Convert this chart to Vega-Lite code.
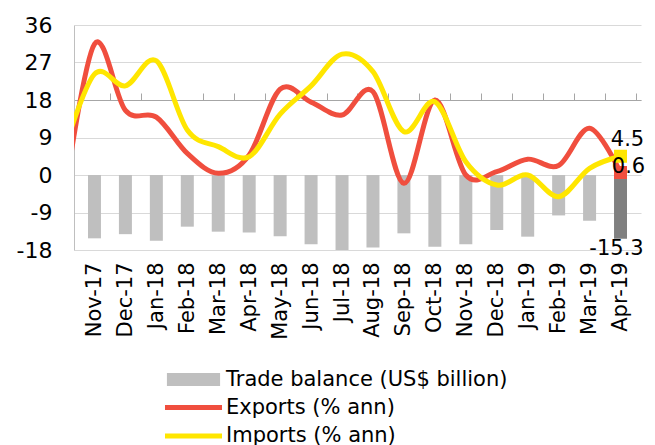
{
  "$schema": "https://vega.github.io/schema/vega-lite/v6.json",
  "width": 567,
  "height": 225,
  "autosize": "none",
  "padding": {"left": 74, "top": 25, "right": 14, "bottom": 195},
  "background": "white",
  "config": {
    "view": {"stroke": null},
    "font": "DejaVu Sans",
    "axisY": {"labelOverlap": false, "labelFlush": false, "grid": true, "gridColor": "#D9D9D9", "ticks": false,
      "domainColor": "#BFBFBF", "labelFontSize": 22, "labelPadding": 22, "labelColor": "#000000", "title": null,
      "tickCount": 30}
  },
  "data": {"values": [
    {"i": -1, "month": "Oct-17", "balance": null, "exports": -6.5, "imports": 5.5},
    {"i": 0, "month": "Nov-17", "balance": -15.2, "exports": 31.4, "imports": 24.2},
    {"i": 1, "month": "Dec-17", "balance": -14.2, "exports": 15.5, "imports": 21.4},
    {"i": 2, "month": "Jan-18", "balance": -15.8, "exports": 13.9, "imports": 27.4},
    {"i": 3, "month": "Feb-18", "balance": -12.4, "exports": 5.2, "imports": 10.8},
    {"i": 4, "month": "Mar-18", "balance": -13.6, "exports": 0.4, "imports": 6.8},
    {"i": 5, "month": "Apr-18", "balance": -13.8, "exports": 4.8, "imports": 4.4},
    {"i": 6, "month": "May-18", "balance": -14.7, "exports": 20.6, "imports": 14.6},
    {"i": 7, "month": "Jun-18", "balance": -16.6, "exports": 17.5, "imports": 21.4},
    {"i": 8, "month": "Jul-18", "balance": -18.0, "exports": 14.4, "imports": 29.0},
    {"i": 9, "month": "Aug-18", "balance": -17.4, "exports": 20.0, "imports": 24.8},
    {"i": 10, "month": "Sep-18", "balance": -14.0, "exports": -2.0, "imports": 10.4},
    {"i": 11, "month": "Oct-18", "balance": -17.2, "exports": 18.0, "imports": 17.6},
    {"i": 12, "month": "Nov-18", "balance": -16.6, "exports": 0.0, "imports": 3.2},
    {"i": 13, "month": "Dec-18", "balance": -13.2, "exports": 0.8, "imports": -2.4},
    {"i": 14, "month": "Jan-19", "balance": -14.8, "exports": 3.8, "imports": 0.0},
    {"i": 15, "month": "Feb-19", "balance": -9.7, "exports": 2.3, "imports": -5.2},
    {"i": 16, "month": "Mar-19", "balance": -11.0, "exports": 11.2, "imports": 1.6},
    {"i": 17, "month": "Apr-19", "balance": -15.3, "exports": 0.6, "imports": 4.5}
  ]},
  "resolve": {"axis": {"x": "independent"}},
  "layer": [
    {
      "transform": [{"filter": "datum.balance != null"}],
      "mark": {"type": "bar", "size": 13},
      "encoding": {
        "x": {"field": "i", "type": "quantitative",
          "scale": {"domain": [-0.5, 17.5], "nice": false, "zero": false},
          "axis": {"values": [0,1,2,3,4,5,6,7,8,9,10,11,12,13,14,15,16,17], "tickCount": 40,
            "labelExpr": "['Nov-17','Dec-17','Jan-18','Feb-18','Mar-18','Apr-18','May-18','Jun-18','Jul-18','Aug-18','Sep-18','Oct-18','Nov-18','Dec-18','Jan-19','Feb-19','Mar-19','Apr-19'][datum.value]",
            "labelAngle": -90, "labelAlign": "right", "labelBaseline": "middle",
            "ticks": false, "domain": false, "grid": false, "labelFontSize": 21,
            "labelPadding": 12, "labelColor": "#000000", "title": null, "labelOverlap": false, "labelFlush": false}},
        "y": {"field": "balance", "type": "quantitative",
          "scale": {"domain": [-18, 36], "nice": false, "zero": false},
          "axis": {"values": [-18,-9,0,9,18,27,36], "labelExpr": "'' + datum.value"}},
        "fill": {
          "datum": "Trade balance (US$ billion)", "type": "nominal",
          "scale": {"range": ["#BFBFBF"]},
          "condition": {"test": "datum.month === 'Apr-19'", "value": "#808080"},
          "legend": {"orient": "none", "legendX": 109, "legendY": 344, "title": null,
            "symbolType": "M-5,-1.2H5V1.2H-5Z", "symbolSize": 113, "labelFontSize": 21,
            "labelOffset": 22, "labelColor": "#000000", "padding": 0, "symbolStrokeWidth": 0, "labelLimit": 500}
        }
      }
    },
    {
      "transform": [{"fold": ["exports", "imports"], "as": ["series", "value"]}],
      "mark": {"type": "line", "strokeWidth": 5, "interpolate": "cardinal", "clip": true},
      "encoding": {
        "x": {"field": "i", "type": "quantitative",
          "axis": {"values": [-0.5,0.5,1.5,2.5,3.5,4.5,5.5,6.5,7.5,8.5,9.5,10.5,11.5,12.5,13.5,14.5,15.5,16.5,17.5],
            "tickCount": 40, "labels": false, "tickSize": 7, "tickColor": "#A6A6A6", "domainColor": "#A6A6A6",
            "offset": -75, "grid": false, "title": null}},
        "y": {"field": "value", "type": "quantitative"},
        "stroke": {"field": "series", "type": "nominal",
          "scale": {"domain": ["exports", "imports"], "range": ["#F04E3E", "#FFE600"]},
          "legend": {"orient": "none", "legendX": 109, "legendY": 372, "title": null,
            "symbolType": "M-5,0H5", "symbolSize": 130, "symbolStrokeWidth": 5,
            "labelExpr": "datum.value == 'exports' ? 'Exports (% ann)' : 'Imports (% ann)'",
            "labelFontSize": 21, "labelOffset": 22, "labelColor": "#000000", "padding": 0,
            "rowPadding": 6.5, "labelLimit": 500}}
      }
    },
    {
      "transform": [{"fold": ["exports", "imports"], "as": ["series", "value"]}, {"filter": "datum.i == 17"}],
      "mark": {"type": "square", "size": 169, "opacity": 1},
      "encoding": {
        "x": {"field": "i", "type": "quantitative", "axis": null},
        "y": {"field": "value", "type": "quantitative"},
        "color": {"field": "series", "type": "nominal",
          "scale": {"domain": ["exports", "imports"], "range": ["#F04E3E", "#FFE600"]}, "legend": null}
      }
    },
    {
      "transform": [{"filter": "datum.i == 17"}],
      "mark": {"type": "text", "fontSize": 21, "dx": 7, "dy": -16, "color": "#000000"},
      "encoding": {
        "x": {"field": "i", "type": "quantitative", "axis": null},
        "y": {"field": "imports", "type": "quantitative"},
        "text": {"field": "imports", "type": "nominal"}
      }
    },
    {
      "transform": [{"filter": "datum.i == 17"}],
      "mark": {"type": "text", "fontSize": 21, "dx": 8, "dy": -6, "color": "#000000"},
      "encoding": {
        "x": {"field": "i", "type": "quantitative", "axis": null},
        "y": {"field": "exports", "type": "quantitative"},
        "text": {"field": "exports", "type": "nominal"}
      }
    },
    {
      "transform": [{"filter": "datum.i == 17"}],
      "mark": {"type": "text", "fontSize": 21, "dx": -4, "dy": 10, "color": "#000000"},
      "encoding": {
        "x": {"field": "i", "type": "quantitative", "axis": null},
        "y": {"field": "balance", "type": "quantitative"},
        "text": {"field": "balance", "type": "nominal"}
      }
    }
  ]
}
